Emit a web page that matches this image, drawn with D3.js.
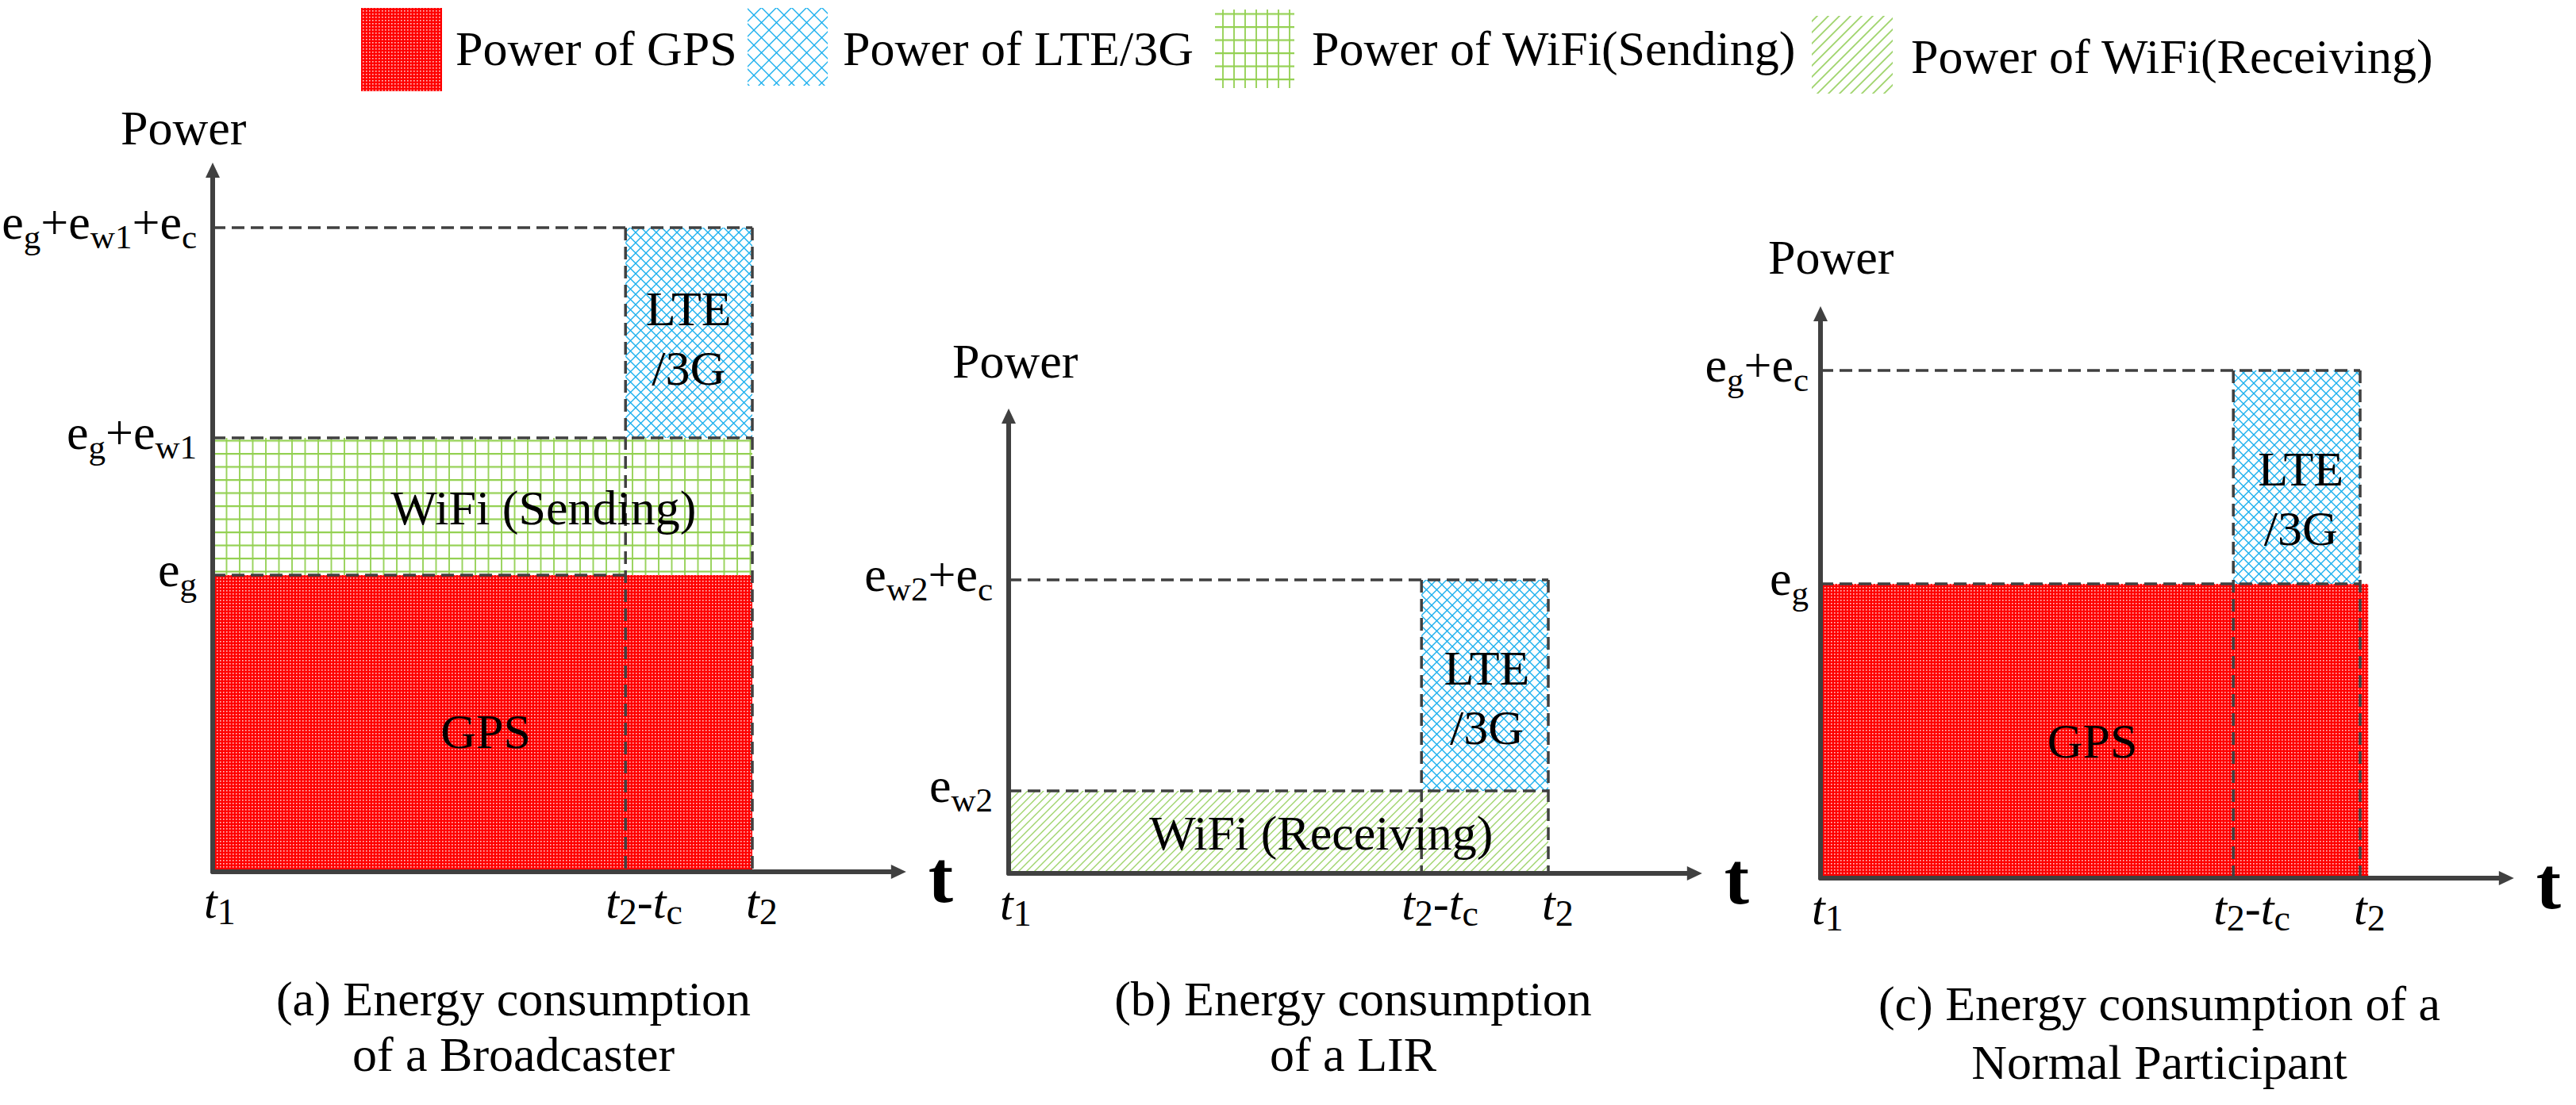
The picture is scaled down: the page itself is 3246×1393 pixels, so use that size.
<!DOCTYPE html>
<html>
<head>
<meta charset="utf-8">
<script src="https://cdn.jsdelivr.net/npm/d3@7"></script>
<style>
  html, body { margin: 0; padding: 0; background: #ffffff; }
  svg { display: block; }
</style>
</head>
<body>
<script>
// ---------------- DATA ----------------
const legendNames = ["Power of GPS", "Power of LTE/3G", "Power of WiFi(Sending)", "Power of WiFi(Receiving)"];
const legendKeys = ["gps", "lte", "wifiS", "wifiR"];

// time points (relative): t1, t2 - tc, t2 ; axis end
const timeValues = [0, 0.765, 1];
const timeLabels = [
  [["t", "i"], ["1", "s"]],
  [["t", "i"], ["2", "s"], ["-", "n"], ["t", "i"], ["c", "s"]],
  [["t", "i"], ["2", "s"]]
];
const timeAxisEnd = 1.285;

// power levels of each panel (arbitrary units)
const levelsA = [3.74, 5.47, 8.12];   // eg, eg+ew1, eg+ew1+ec
const levelsB = [1.04, 3.70];         // ew2, ew2+ec
const levelsC = [3.71, 6.40];         // eg, eg+ec
const powerAxisTop = [8.94, 5.86, 7.21];

const levelLabelsA = [
  [["e", "n"], ["g", "s"]],
  [["e", "n"], ["g", "s"], ["+", "n"], ["e", "n"], ["w1", "s"]],
  [["e", "n"], ["g", "s"], ["+", "n"], ["e", "n"], ["w1", "s"], ["+", "n"], ["e", "n"], ["c", "s"]]
];
const levelLabelsB = [
  [["e", "n"], ["w2", "s"]],
  [["e", "n"], ["w2", "s"], ["+", "n"], ["e", "n"], ["c", "s"]]
];
const levelLabelsC = [
  [["e", "n"], ["g", "s"]],
  [["e", "n"], ["g", "s"], ["+", "n"], ["e", "n"], ["c", "s"]]
];

// bars: [key, tStart, tEnd, pLow, pHigh]
const barsA = [["gps", 0, 1, 0, 3.74], ["wifiS", 0, 1, 3.74, 5.47], ["lte", 0.765, 1, 5.47, 8.12]];
const barsB = [["wifiR", 0, 1, 0, 1.04], ["lte", 0.765, 1, 1.04, 3.70]];
const barsC = [["gps", 0, 1.015, 0, 3.71], ["lte", 0.765, 1, 3.71, 6.40]];

// region labels: [lines, tCenter, pBaseline of first line]
const regionA = [[["GPS"], 0.506, 1.56], [["WiFi (Sending)"], 0.613, 4.38], [["LTE", "/3G"], 0.882, 6.89]];
const regionB = [[["WiFi (Receiving)"], 0.579, 0.30], [["LTE", "/3G"], 0.886, 2.38]];
const regionC = [[["GPS"], 0.504, 1.52], [["LTE", "/3G"], 0.890, 4.95]];

const captions = [
  ["(a) Energy consumption", "of a Broadcaster"],
  ["(b) Energy consumption", "of a LIR"],
  ["(c) Energy consumption of a", "Normal Participant"]
];
const axisNames = ["Power", "t"];

// ---------------- LAYOUT ----------------
const W = 3246, H = 1393;
const FONT = "'Liberation Serif', 'Times New Roman', Tinos, 'DejaVu Serif', serif";
const svg = d3.select("body").append("svg").attr("width", W).attr("height", H)
  .attr("font-family", FONT).style("font-family", FONT);
const defs = svg.append("defs");
const ink = "#404040";
const green = "#92d050";
const blue = "#1cb0ee";

// patterns
function gpsPattern(id) {
  const p = defs.append("pattern").attr("id", id).attr("patternUnits", "userSpaceOnUse").attr("width", 4).attr("height", 4);
  p.append("rect").attr("width", 4).attr("height", 4).attr("fill", "#ff0000");
  p.append("rect").attr("x", 1).attr("y", 1).attr("width", 1.6).attr("height", 1.6).attr("fill", "#ffc8c8");
}
function ltePattern(id, s) {
  const p = defs.append("pattern").attr("id", id).attr("patternUnits", "userSpaceOnUse").attr("width", s).attr("height", s);
  p.append("rect").attr("width", s).attr("height", s).attr("fill", "#ffffff");
  p.append("path").attr("d", `M0,0L${s},${s}M${s},0L0,${s}`).attr("stroke", blue).attr("stroke-width", 1.4).attr("fill", "none");
}
function gridPattern(id, sx, sy) {
  const p = defs.append("pattern").attr("id", id).attr("patternUnits", "userSpaceOnUse").attr("width", sx).attr("height", sy);
  p.append("rect").attr("width", sx).attr("height", sy).attr("fill", "#ffffff");
  p.append("path").attr("d", `M1,0V${sy}`).attr("stroke", green).attr("stroke-width", 1.8);
  p.append("path").attr("d", `M0,1H${sx}`).attr("stroke", green).attr("stroke-width", 2.4);
}
function hatchPattern(id, s, w) {
  const p = defs.append("pattern").attr("id", id).attr("patternUnits", "userSpaceOnUse").attr("width", s).attr("height", s);
  p.append("rect").attr("width", s).attr("height", s).attr("fill", "#ffffff");
  p.append("path").attr("d", `M0,${s}L${s},0M-2,2L2,-2M${s - 2},${s + 2}L${s + 2},${s - 2}`)
    .attr("stroke", "#9fd46c").attr("stroke-width", w);
}
gpsPattern("p-gps");
ltePattern("p-lte", 13);
ltePattern("p-lte-leg", 19);
gridPattern("p-wifiS", 16.5, 16.5);
gridPattern("p-wifiS-leg", 14, 16.5);
hatchPattern("p-wifiR", 10, 1.4);
hatchPattern("p-wifiR-leg", 14, 1.8);

const fillFor = { gps: "url(#p-gps)", lte: "url(#p-lte)", wifiS: "url(#p-wifiS)", wifiR: "url(#p-wifiR)" };
const legFill = { gps: "url(#p-gps)", lte: "url(#p-lte-leg)", wifiS: "url(#p-wifiS-leg)", wifiR: "url(#p-wifiR-leg)" };

// ---------- legend ----------
const legendBoxes = [[455, 10, 102, 105], [942, 10, 101, 98], [1531, 12, 100, 99], [2283, 20, 102, 98]];
const legendTextPos = [[574, 82], [1062, 82], [1653, 82], [2408, 92]];
const legend = svg.append("g");
legendKeys.forEach((k, i) => {
  const b = legendBoxes[i];
  legend.append("rect").attr("x", b[0]).attr("y", b[1]).attr("width", b[2]).attr("height", b[3]).attr("fill", legFill[k]);
  legend.append("text").attr("x", legendTextPos[i][0]).attr("y", legendTextPos[i][1])
    .attr("font-size", 62).text(legendNames[i]);
});

// ---------- shared scales ----------
const x = d3.scaleLinear().domain([0, 1]).range([0, 680]);
const y = d3.scaleLinear().domain([0, 10]).range([0, -1000]);

const panelOrigins = [[268, 1099], [1271, 1101], [2294, 1107]];
const allLevels = [levelsA, levelsB, levelsC];
const allLevelLabels = [levelLabelsA, levelLabelsB, levelLabelsC];
const allBars = [barsA, barsB, barsC];
const allRegions = [regionA, regionB, regionC];
const powerLabelOff = [[-116, -23], [-71, -39], [-66, -41]];
const levelLabelRight = [-20, -20, -15];
const timeLabelOff = [-11, -25, -8];
const captionPos = [[647, 1280, 1350], [1705, 1280, 1350], [2721, 1286, 1360]];

function richText(g, parts, xPos, yPos, anchor, size, subSize, subShift) {
  const t = g.append("text").attr("x", xPos).attr("y", yPos).attr("text-anchor", anchor).attr("font-size", size);
  let shifted = false;
  parts.forEach(([s, kind]) => {
    const ts = t.append("tspan").text(s);
    if (kind === "s") {
      ts.attr("font-size", subSize);
      if (!shifted) { ts.attr("dy", subShift); shifted = true; }
    } else {
      if (shifted) { ts.attr("dy", -subShift); shifted = false; }
      if (kind === "i") ts.attr("font-style", "italic");
    }
  });
  return t;
}

allBars.forEach((bars, pi) => {
  const [ox, oy] = panelOrigins[pi];
  const g = svg.append("g").attr("transform", `translate(${ox},${oy})`);
  const levels = allLevels[pi];
  const top = levels[levels.length - 1];

  // filled rectangles
  g.selectAll("rect.bar").data(bars).join("rect").attr("class", "bar")
    .attr("x", d => x(d[1])).attr("width", d => x(d[2]) - x(d[1]))
    .attr("y", d => y(d[4])).attr("height", d => y(d[3]) - y(d[4]))
    .attr("fill", d => fillFor[d[0]]);

  // dashed guide lines
  const dashed = g.append("g").attr("stroke", ink).attr("stroke-width", 3.5)
    .attr("stroke-dasharray", "16,8").attr("fill", "none");
  levels.forEach((lv, li) => {
    const xEnd = (pi === 0 && li === 0) ? timeValues[1] : timeValues[2];
    dashed.append("line").attr("x1", x(0)).attr("x2", x(xEnd)).attr("y1", y(lv)).attr("y2", y(lv));
  });
  [timeValues[1], timeValues[2]].forEach(tv => {
    dashed.append("line").attr("x1", x(tv)).attr("x2", x(tv)).attr("y1", y(top)).attr("y2", y(0));
  });

  // axes
  const xEndPx = x(timeAxisEnd), yTopPx = y(powerAxisTop[pi]);
  g.append("line").attr("x1", x(0)).attr("y1", 0).attr("x2", xEndPx - 12).attr("y2", 0)
    .attr("stroke", ink).attr("stroke-width", 6).attr("stroke-linecap", "round");
  g.append("path").attr("d", `M${xEndPx},0L${xEndPx - 19},-9L${xEndPx - 19},9Z`).attr("fill", ink);
  g.append("line").attr("x1", 0).attr("y1", y(0)).attr("x2", 0).attr("y2", yTopPx + 12)
    .attr("stroke", ink).attr("stroke-width", 6).attr("stroke-linecap", "round");
  g.append("path").attr("d", `M0,${yTopPx}L-9,${yTopPx + 19}L9,${yTopPx + 19}Z`).attr("fill", ink);

  // axis names
  g.append("text").attr("x", powerLabelOff[pi][0]).attr("y", yTopPx + powerLabelOff[pi][1])
    .attr("font-size", 62).text(axisNames[0]);
  g.append("text").attr("x", xEndPx + 28).attr("y", 38).attr("font-size", 94)
    .attr("font-weight", "bold").text(axisNames[1]);

  // level labels
  allLevelLabels[pi].forEach((parts, li) => {
    richText(g, parts, levelLabelRight[pi], y(levels[li]) + 14, "end", 62, 43, 12);
  });

  // time labels
  timeLabels.forEach((parts, ti) => {
    richText(g, parts, x(timeValues[ti]) + timeLabelOff[ti], 58, "start", 60, 46, 8);
  });

  // region labels
  allRegions[pi].forEach(([lines, tc, pb]) => {
    lines.forEach((ln, k) => {
      g.append("text").attr("x", x(tc)).attr("y", y(pb) + k * 75)
        .attr("text-anchor", "middle").attr("font-size", 62).text(ln);
    });
  });

  // caption
  const cp = captionPos[pi];
  svg.append("text").attr("x", cp[0]).attr("y", cp[1]).attr("text-anchor", "middle").attr("font-size", 62).text(captions[pi][0]);
  svg.append("text").attr("x", cp[0]).attr("y", cp[2]).attr("text-anchor", "middle").attr("font-size", 62).text(captions[pi][1]);
});
</script>
</body>
</html>
